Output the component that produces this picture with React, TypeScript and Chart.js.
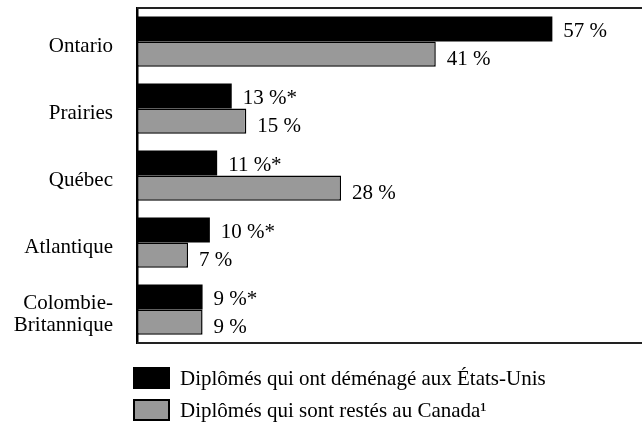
import React, { useEffect, useRef } from "react";
import { Chart, registerables } from "chart.js";

Chart.register(...registerables);

const categories: (string | string[])[] = [
  "Ontario",
  "Prairies",
  "Québec",
  "Atlantique",
  ["Colombie-", "Britannique"],
];
const usValues = [57, 13, 11, 10, 9];
const usSignificant = [false, true, true, true, true];
const canadaValues = [41, 15, 28, 7, 9];
const canadaSignificant = [false, false, false, false, false];
const seriesNames = [
  "Diplômés qui ont déménagé aux États-Unis",
  "Diplômés qui sont restés au Canada",
];
const footnoteMark = "¹";

const FONT = "'Liberation Serif', 'Times New Roman', serif";
const FS = 21;

const valueLabels = {
  id: "valueLabels",
  afterDatasetsDraw(chart: any) {
    const ctx = chart.ctx;
    ctx.save();
    ctx.font = `${FS}px ${FONT}`;
    ctx.fillStyle = "#000";
    ctx.textAlign = "left";
    ctx.textBaseline = "middle";
    const flags = [usSignificant, canadaSignificant];
    chart.data.datasets.forEach((ds: any, di: number) => {
      const meta = chart.getDatasetMeta(di);
      meta.data.forEach((bar: any, i: number) => {
        const v = ds.data[i];
        const txt = `${v} %${flags[di][i] ? "*" : ""}`;
        ctx.fillText(txt, bar.x + 11, bar.y + (di === 1 ? 5 : 3));
      });
    });
    ctx.restore();
  },
};

const framePlugin = {
  id: "frame",
  afterDraw(chart: any) {
    const { ctx, chartArea, width } = chart;
    ctx.save();
    ctx.strokeStyle = "#222";
    ctx.lineWidth = 2;
    ctx.beginPath();
    ctx.moveTo(chartArea.left, chartArea.top);
    ctx.lineTo(width, chartArea.top);
    ctx.moveTo(chartArea.left, chartArea.bottom);
    ctx.lineTo(width, chartArea.bottom);
    ctx.stroke();
    ctx.restore();
  },
};

const customLegend = {
  id: "customLegend",
  afterDraw(chart: any) {
    const { ctx, chartArea } = chart;
    ctx.save();
    ctx.font = `${FS}px ${FONT}`;
    ctx.textBaseline = "middle";
    ctx.textAlign = "left";
    const boxX = 133;
    const boxW = 37;
    const boxH = 22;
    const textX = 180;
    const rows = [chartArea.bottom + 24, chartArea.bottom + 56];
    chart.data.datasets.forEach((ds: any, i: number) => {
      const y = rows[i];
      ctx.fillStyle = ds.backgroundColor;
      ctx.fillRect(boxX, y, boxW, boxH);
      if (i === 1) {
        ctx.strokeStyle = "#000";
        ctx.lineWidth = 2;
        ctx.strokeRect(boxX + 1, y + 1, boxW - 2, boxH - 2);
      }
      ctx.fillStyle = "#000";
      const label = seriesNames[i];
      ctx.fillText(label, textX, y + boxH / 2 + 1);
      if (i === 1) {
        const w = ctx.measureText(label).width;
        ctx.fillText(footnoteMark, textX + w, y + boxH / 2 + 1);
      }
    });
    ctx.restore();
  },
};

export default function App() {
  const ref = useRef<HTMLCanvasElement | null>(null);
  useEffect(() => {
    if (!ref.current) return;
    const chart = new Chart(ref.current, {
      type: "bar",
      data: {
        labels: categories,
        datasets: [
          {
            label: seriesNames[0],
            data: usValues,
            backgroundColor: "#000000",
            borderWidth: 0,
            categoryPercentage: 0.75,
            barPercentage: 1,
          },
          {
            label: seriesNames[1],
            data: canadaValues,
            backgroundColor: "#999999",
            borderColor: "#000000",
            borderWidth: 1.5,
            borderSkipped: false,
            categoryPercentage: 0.75,
            barPercentage: 1,
          },
        ],
      },
      options: {
        indexAxis: "y",
        animation: false,
        responsive: true,
        maintainAspectRatio: false,
        layout: { padding: { left: 0, right: 0, top: 8, bottom: 81 } },
        plugins: {
          legend: { display: false },
          tooltip: { enabled: false },
        },
        scales: {
          x: {
            display: false,
            min: 0,
            max: 69.3,
          },
          y: {
            z: 1,
            afterFit: (scale: any) => {
              scale.width = 137;
              scale.paddingTop = 0;
              scale.paddingBottom = 0;
            },
            grid: { display: false, drawTicks: false },
            border: { display: true, color: "#000", width: 2.5 },
            ticks: {
              padding: 24,
              labelOffset: 5,
              color: "#000",
              font: { family: FONT, size: FS, lineHeight: 1.06 },
            },
          },
        },
      },
      plugins: [valueLabels, framePlugin, customLegend],
    });
    return () => chart.destroy();
  }, []);
  return (
    <div
      style={{
        position: "fixed",
        left: 0,
        top: 0,
        width: 642,
        height: 424,
        background: "#fff",
      }}
    >
      <canvas ref={ref} />
    </div>
  );
}
